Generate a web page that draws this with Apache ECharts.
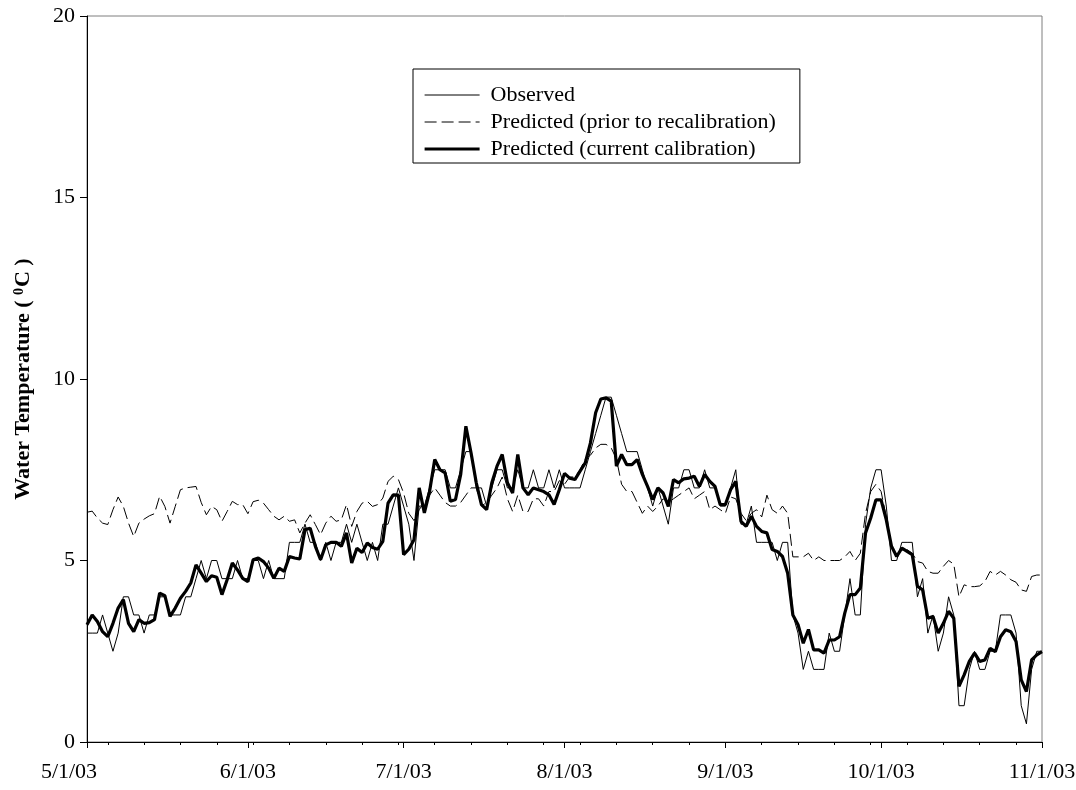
<!DOCTYPE html>
<html>
<head>
<meta charset="utf-8">
<script src="https://cdn.jsdelivr.net/npm/echarts@6/dist/echarts.min.js"></script>
<style>
html,body{margin:0;padding:0;background:#fff;}
#chart{width:1076px;height:790px;}
</style>
</head>
<body>
<div id="chart"></div>
<script>
// ---- data (daily values, 5/1/03 .. 11/1/03) ----
var startDate = '2003-05-01';
var monthTickDates = ['2003-05-01','2003-06-01','2003-07-01','2003-08-01','2003-09-01','2003-10-01','2003-11-01'];
var monthTickLabels = ['5/1/03','6/1/03','7/1/03','8/1/03','9/1/03','10/1/03','11/1/03'];
var seriesNames = ['Observed','Predicted (prior to recalibration)','Predicted (current calibration)'];

var observed = [
3.0,3.0,3.0,3.5,3.0,2.5,3.0,4.0,4.0,3.5,
3.5,3.0,3.5,3.5,4.0,4.0,3.5,3.5,3.5,4.0,
4.0,4.5,5.0,4.5,5.0,5.0,4.5,4.5,4.5,5.0,
4.5,4.5,5.0,5.0,
4.5,5.0,4.5,4.5,4.5,5.5,5.5,5.5,6.0,5.5,5.5,5.0,5.5,5.0,5.5,5.5,6.0,5.5,6.0,5.5,5.0,5.5,5.0,6.0,6.0,6.5,7.0,6.5,6.0,
5.0,6.5,6.5,7.0,7.5,7.5,7.5,7.0,7.0,7.5,8.0,8.0,7.0,7.0,6.5,7.0,7.5,7.5,7.0,7.0,7.5,7.0,7.0,7.5,7.0,7.0,7.5,7.0,7.5,7.0,7.0,
7.0,7.0,7.5,8.0,8.5,9.0,9.5,9.5,9.0,8.5,8.0,8.0,8.0,7.5,7.0,6.5,7.0,6.5,6.0,7.0,7.0,7.5,7.5,7.0,7.0,7.5,7.0,7.0,6.5,6.5,
7.0,7.5,6.0,6.0,6.5,5.5,5.5,5.5,5.5,5.0,5.5,5.5,3.5,3.0,2.0,2.5,2.0,2.0,2.0,3.0,2.5,2.5,3.5,4.5,3.5,3.5,6.0,7.0,7.5,7.5,
6.5,5.0,5.0,5.5,5.5,5.5,4.0,4.5,3.0,3.5,2.5,3.0,4.0,3.5,1.0,1.0,2.0,2.5,2.0,2.0,2.5,2.5,3.5,3.5,3.5,3.0,1.0,0.5,2.0,2.5,2.5
];

var predictedPrior = [
6.33,6.36,6.17,6.03,5.99,6.4,6.75,6.49,6.03,5.66,6.03,6.14,6.23,6.29,6.77,6.49,6.03,6.49,6.95,7.0,7.02,7.04,6.6,6.26,6.49,6.4,6.08,6.35,6.63,6.54,6.54,6.29,6.62,6.66,
6.58,6.4,6.22,6.12,6.22,6.08,6.12,5.76,6.03,6.26,5.99,5.71,6.03,6.22,6.08,6.12,6.54,5.94,6.35,6.58,6.63,6.49,6.54,6.72,7.18,7.32,7.23,6.86,
6.3,6.1,6.4,6.6,6.8,7.0,6.8,6.6,6.5,6.5,6.6,6.8,7.0,7.0,6.5,6.6,6.8,7.0,7.3,6.7,6.35,6.8,6.35,6.35,6.7,6.7,6.5,6.9,6.9,7.2,7.1,7.3,
7.3,7.5,7.8,7.9,8.1,8.2,8.2,8.1,7.8,7.1,6.9,6.9,6.6,6.3,6.5,6.35,6.5,6.7,6.6,6.7,6.8,6.9,7.0,6.7,6.8,6.9,6.4,6.5,6.4,6.3,
6.75,6.7,6.3,6.1,6.3,6.4,6.2,6.8,6.4,6.3,6.5,6.3,5.1,5.1,5.1,5.2,5.0,5.1,5.0,5.0,5.0,5.0,5.1,5.25,5.0,5.2,6.3,6.9,7.1,6.9,
6.2,5.4,5.1,5.3,5.3,5.2,4.97,4.93,4.7,4.65,4.65,4.84,5.0,4.9,4.0,4.33,4.28,4.28,4.3,4.42,4.7,4.6,4.7,4.6,4.47,4.4,4.19,4.15,4.56,4.6,4.6
];

var predictedCurrent = [
3.23,3.5,3.32,3.04,2.9,3.27,3.69,3.92,3.27,3.04,3.37,3.27,3.29,3.37,4.1,4.03,3.46,3.69,3.96,4.15,4.38,4.88,4.65,4.42,4.58,4.54,4.06,4.47,4.93,4.74,4.51,4.42,5.02,5.07,
4.97,4.79,4.51,4.79,4.7,5.11,5.07,5.04,5.85,5.89,5.39,5.02,5.43,5.5,5.5,5.39,5.76,4.93,5.34,5.22,5.48,5.36,5.31,5.53,6.58,6.81,6.8,5.16,5.31,
5.57,7.0,6.31,6.9,7.78,7.5,7.41,6.63,6.68,7.37,8.7,7.96,7.14,6.54,6.4,7.14,7.6,7.92,7.14,6.86,7.92,7.0,6.81,7.0,6.95,6.9,6.81,6.54,6.95,7.4,7.27,
7.23,7.46,7.69,8.24,9.07,9.45,9.48,9.39,7.6,7.92,7.64,7.64,7.78,7.37,7.04,6.68,7.0,6.86,6.49,7.23,7.14,7.25,7.27,7.32,7.04,7.37,7.18,7.04,6.54,6.54,
6.95,7.18,6.08,5.94,6.22,5.94,5.8,5.76,5.3,5.25,5.11,4.65,3.5,3.23,2.72,3.1,2.54,2.54,2.45,2.81,2.81,2.9,3.55,4.06,4.06,4.24,5.76,6.17,6.67,6.67,
6.12,5.39,5.11,5.34,5.25,5.16,4.29,4.19,3.41,3.46,3.0,3.27,3.6,3.41,1.53,1.85,2.22,2.45,2.22,2.26,2.58,2.49,2.9,3.09,3.04,2.77,1.71,1.39,2.26,2.4,2.49
];

var yTicks = [0, 5, 10, 15, 20];

// ---- helpers ----
var DAY = 86400000;
function dayIndex(s) { return Math.round((Date.parse(s + 'T00:00:00Z') - Date.parse(startDate + 'T00:00:00Z')) / DAY); }
var monthTickIdx = monthTickDates.map(dayIndex);
var lastDay = monthTickIdx[monthTickIdx.length - 1];
var weekTickIdx = [];
for (var w = 4; w < lastDay; w += 7) weekTickIdx.push(w);
function pairs(arr) { return arr.map(function (v, i) { return [i, v]; }); }
var labelMap = {};
monthTickIdx.forEach(function (d, i) { labelMap[d] = monthTickLabels[i]; });

var FONT = '"Liberation Serif","Times New Roman",serif';
var lineWidths = [1, 1, 3.2];
var lineTypes = ['solid', [12, 5], 'solid'];

var chart = echarts.init(document.getElementById('chart'), null, { renderer: 'canvas' });
chart.setOption({
  animation: false,
  backgroundColor: '#fff',
  grid: { left: 87, right: 34, top: 16, bottom: 48, show: true, borderColor: '#7f7f7f', borderWidth: 1,
    backgroundColor: 'transparent', outerBoundsMode: 'none', containLabel: false },
  legend: {
    orient: 'vertical',
    left: 413, top: 69,
    padding: [15, 24, 3, 10],
    itemGap: 5,
    itemWidth: 55, itemHeight: 14,
    borderColor: '#000', borderWidth: 1,
    itemStyle: { color: 'transparent', borderWidth: 0, opacity: 0 },
    textStyle: { fontFamily: FONT, fontSize: 22, color: '#000', padding: [0, 0, 0, 6] },
    data: seriesNames.map(function (n, i) {
      return { name: n, lineStyle: { color: '#000', width: lineWidths[i], type: lineTypes[i] } };
    })
  },
  xAxis: [{
    type: 'value', min: 0, max: lastDay,
    axisLine: { show: true, lineStyle: { color: '#000', width: 1 } },
    axisTick: { show: true, customValues: monthTickIdx, length: 6, lineStyle: { color: '#000' } },
    axisLabel: { customValues: monthTickIdx, margin: 19, fontFamily: FONT, fontSize: 22, color: '#000',
      formatter: function (v) {
        var t = labelMap[v] || '';
        return v === 0 ? '{first|' + t + '}' : t;
      },
      rich: { first: { fontFamily: FONT, fontSize: 22, color: '#000', padding: [0, 36, 0, 0] } }
    },
    splitLine: { show: false }
  }, {
    type: 'value', min: 0, max: lastDay, position: 'bottom',
    axisLine: { show: false },
    axisTick: { show: true, customValues: weekTickIdx, length: 3, lineStyle: { color: '#000' } },
    axisLabel: { show: false },
    splitLine: { show: false }
  }],
  yAxis: {
    type: 'value', min: yTicks[0], max: yTicks[yTicks.length - 1], interval: 5,
    axisLine: { show: true, lineStyle: { color: '#000', width: 1 } },
    axisTick: { show: true, length: 7, lineStyle: { color: '#000' } },
    axisLabel: { margin: 12, fontFamily: FONT, fontSize: 22, color: '#000' },
    splitLine: { show: false },
    name: '{b|Water Temperature ( }{s|0}{b|C )}',
    nameLocation: 'middle', nameGap: 52,
    nameTextStyle: {
      rich: {
        b: { fontFamily: FONT, fontSize: 22, fontWeight: 'bold', color: '#000' },
        s: { fontFamily: FONT, fontSize: 14, fontWeight: 'bold', color: '#000', padding: [0, 1, 9, 0] }
      }
    }
  },
  series: seriesNames.map(function (n, i) {
    return {
      name: n, type: 'line', data: pairs([observed, predictedPrior, predictedCurrent][i]),
      symbol: 'none', showSymbol: false,
      lineStyle: { color: '#000', width: lineWidths[i], type: lineTypes[i] }, itemStyle: { color: '#000' }
    };
  })
});
</script>
</body>
</html>
